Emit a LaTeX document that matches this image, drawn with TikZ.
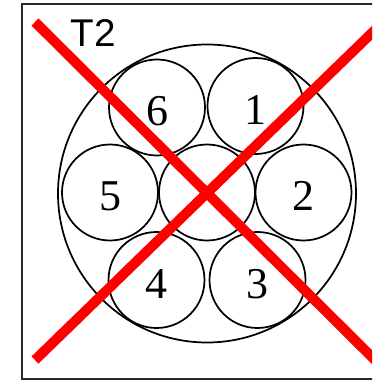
\documentclass[tikz,border=0pt]{standalone}
\usepackage{fontspec}
\setmainfont{Liberation Serif}
\newfontfamily\tagsans{Liberation Sans}
\usetikzlibrary{positioning}
\definecolor{CrossRed}{RGB}{255, 0, 0}
\definecolor{FrameGray}{RGB}{40, 40, 40}

\begin{document}
\begin{tikzpicture}[
    x=0.75pt, y=-0.75pt,
    wire/.style={draw, circle, line width=1.3pt, minimum size=72pt, inner sep=0pt, text height=27pt, text depth=0pt, font=\fontsize{33}{33}\selectfont},
    sheath/.style={draw, circle, line width=1.3pt, minimum size=223.5pt, inner sep=0pt},
    cross/.style={line width=7.5pt, draw=CrossRed}
]
\clip (0,0) rectangle (372,381);
\draw[line width=1.5pt, draw=FrameGray] (22,4) rectangle (400,379);
\node[font=\tagsans\fontsize{29}{29}\selectfont] (tag) at (93.5,33) {T2};
\node[sheath] (cable) at (207,193.5) {};
\node[wire] (core) at (207,192.5) {};
\node[wire] (w1) at (255.5,106) {1};
\node[wire] (w2) at (303.5,192.5) {2};
\node[wire] (w3) at (257.5,280) {3};
\node[wire] (w4) at (156.5,280) {4};
\node[wire] (w5) at (110,192.5) {5};
\node[wire] (w6) at (157,107.5) {6};
% red cross over the whole cable
\coordinate (xa) at (35,22);
\coordinate (xb) at (395,380);
\coordinate (xc) at (35,360);
\coordinate (xd) at (395,10.5);
\draw[cross] (xa) -- (xb);
\draw[cross] (xc) -- (xd);
\end{tikzpicture}
\end{document}
